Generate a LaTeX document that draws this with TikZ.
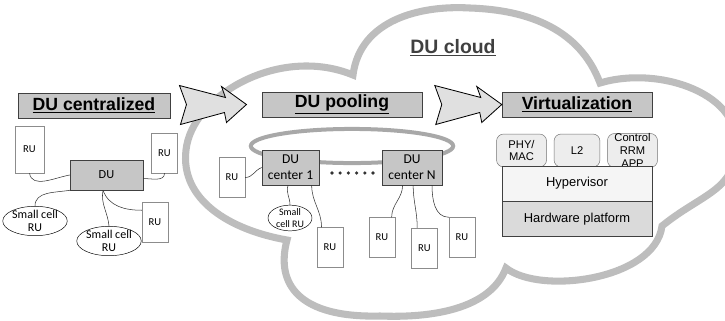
\documentclass[tikz,border=0pt]{standalone}
\usepackage{fontspec}
\setmainfont{Liberation Sans}
\newfontfamily\calibri{Carlito}
\usetikzlibrary{positioning,shapes.geometric}
\definecolor{cloudgray}{HTML}{BDBDBD}
\definecolor{ringgray}{HTML}{A8A8A8}
\definecolor{boxgray}{HTML}{C6C6C6}
\definecolor{hwgray}{HTML}{DADADA}

\tikzset{
  stage/.style={draw=black!75, fill=boxgray, minimum height=21.25pt, inner sep=0pt,
    font=\bfseries\fontsize{15}{18}\selectfont},
  rubox/.style={draw=black!45, fill=white, minimum width=22pt, minimum height=34pt,
    inner sep=0pt, font=\calibri\fontsize{9}{10}\selectfont},
  dubox/.style={draw=black!75, fill=boxgray, inner sep=0pt, align=center,
    font=\calibri\fontsize{11.5}{13.5}\selectfont},
  cellru/.style={ellipse, draw=black, fill=white, inner sep=0pt, align=center},
  link/.style={draw=black!80, line width=0.45pt},
  vnf/.style={draw=black!55, fill=black!7, rounded corners=6pt, minimum height=28pt,
    inner sep=0pt, align=center, font=\fontsize{9.5}{11}\selectfont},
  layer/.style={draw=black!75, minimum width=127.5pt, minimum height=29.75pt,
    inner sep=0pt, font=\fontsize{11}{13}\selectfont},
  pics/bigarrow/.style={code={
    \draw[fill=black!12, line width=0.7pt, line join=miter]
      (0,0) -- (-25,-18) -- (-21,-7) -- (-67,-19) -- (-60,0) -- (-66,20)
      -- (-22,8) -- (-20,18) -- cycle;
  }},
}

\begin{document}
\begin{tikzpicture}[x=0.85pt, y=-0.85pt]
  \useasboundingbox (0,0) rectangle (725,320);

  % cloud
  \draw[cloudgray, line width=6pt, fill=white]
    (353,75) .. controls (360,20) and (420,5) .. (470,8)
             .. controls (530,10) and (580,30) .. (600,83)
             .. controls (660,65) and (745,95) .. (735,150)
             .. controls (735,190) and (700,195) .. (662,226)
             .. controls (655,280) and (540,295) .. (506,268)
             .. controls (490,310) and (430,318) .. (380,316)
             .. controls (300,318) and (275,285) .. (287,240)
             .. controls (230,230) and (180,200) .. (186,150)
             .. controls (192,95) and (280,45) .. cycle;
  \node[text=black!75, font=\bfseries\fontsize{16.5}{19}\selectfont] (cloud) at (453,48) {\underline{DU cloud}};

  % titles
  \node[stage, minimum width=129.2pt] (t1) at (94,105.5) {\underline{DU centralized}};
  \node[stage, minimum width=136pt] (t2) at (342,104.5) {\underline{DU pooling}};
  \node[stage, minimum width=127.5pt] (t3) at (577,104.5) {\underline{Virtualization}};
  \pic at ([xshift=-13pt]t2.west) {bigarrow};
  \pic at (t3.west) {bigarrow};

  % DU centralized
  \node[rubox, minimum width=24.65pt, minimum height=40pt] (ru1) at (29.5,149.5) {RU};
  \node[rubox] (ru2) at (164.5,153) {RU};
  \node[dubox, minimum width=62pt, minimum height=25.5pt, font=\calibri\fontsize{10.5}{12}\selectfont] (du) at (106.5,175) {DU};
  \node[rubox] (ru3) at (155,222) {RU};
  \node[cellru, minimum width=46pt, minimum height=21.25pt, font=\calibri\fontsize{10.2}{10.5}\selectfont] (sc1) at (35,221) {Small cell\\RU};
  \node[cellru, minimum width=46pt, minimum height=21.25pt, font=\calibri\fontsize{10.2}{10.5}\selectfont] (sc2) at (109,241) {Small cell\\RU};
  \draw[link] (ru1.south) to[out=-80,in=190] (du.west);
  \draw[link] ([yshift=-3pt]du.east) to[out=0,in=-90] (ru2.south);
  \draw[link] (du.south west) to[out=190,in=90] (sc1.north);
  \draw[link] ([xshift=-3pt]du.south) to[out=-70,in=180] ([yshift=10pt]ru3.west);
  \draw[link] ([xshift=-3pt]du.south) to[out=-100,in=95] (sc2.north);

  % DU pooling
  \coordinate (pool) at (352,146);
  \draw[ringgray, line width=3.4pt] (pool) ellipse [x radius=86pt, y radius=14.5pt];
  \node[dubox, minimum width=48.5pt, minimum height=29.75pt] (dc1) at (290.5,167.5) {DU\\center 1};
  \node[dubox, minimum width=51pt, minimum height=29.75pt] (dcN) at (412,167.5) {DU\\center N};
  \foreach \i in {0,...,5}
    \fill[black!80] (332+8.2*\i,173) circle (1.5pt);
  \node[rubox] (ruL) at (232,177.5) {RU};
  \node[cellru, minimum width=37.4pt, minimum height=20.4pt, font=\calibri\fontsize{8.5}{9.5}\selectfont] (sc3) at (290,218) {Small\\cell RU};
  \node[rubox] (ruA) at (330,247.5) {RU};
  \node[rubox] (ruB) at (382,237.5) {RU};
  \node[rubox] (ruC) at (424.5,248) {RU};
  \node[rubox] (ruD) at (462,237.5) {RU};
  \draw[link] (ruL.east) to[out=0,in=200] (dc1.west);
  \draw[link] ([xshift=-2pt]dc1.south) to[out=-110,in=90] (sc3.north);
  \draw[link] ([xshift=18pt]dc1.south) to[out=-90,in=90] ([xshift=4pt]ruA.north west);
  \draw[link] ([xshift=-8pt]dcN.south) to[out=-90,in=90] ([xshift=-3pt]ruB.north east);
  \draw[link] ([xshift=1pt]dcN.south) to[out=-90,in=90] ([xshift=5pt]ruC.north west);
  \draw[link] ([xshift=17pt]dcN.south) to[out=-90,in=180] (ruD.north west);

  % Virtualization
  \node[vnf, minimum width=39pt] (l2) at (577,150.5) {L2};
  \node[vnf, minimum width=42.5pt, left=6pt of l2] (phy) {PHY/\\MAC};
  \node[vnf, minimum width=42.5pt, right=6pt of l2] (ctl) {Control\\RRM\\APP};
  \node[layer, fill=black!4] (hyp) at (577,183.5) {Hypervisor};
  \node[layer, fill=hwgray, below=0pt of hyp] (hw) {Hardware platform};
\end{tikzpicture}
\end{document}
